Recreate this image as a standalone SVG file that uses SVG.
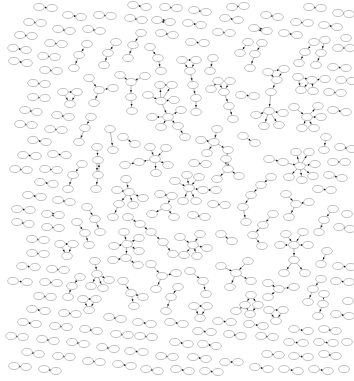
<svg xmlns="http://www.w3.org/2000/svg" width="354" height="381" viewBox="0 0 354 381">
<style>
ellipse{fill:#fff;stroke:#9a9a9a;stroke-width:.6}
#edges line{stroke:#6a6a6a;stroke-width:.5;marker-end:url(#a)}
</style>
<defs>
<marker id="a" markerUnits="userSpaceOnUse" markerWidth="10" markerHeight="10" refX="0" refY="0" orient="auto" overflow="visible"><path d="M-4.7,0L-7,-1L-7,1Z" fill="#111"/></marker>
</defs>
<rect width="354" height="381" fill="#fff"/>
<g id="edges">
<line x1="39" y1="7" x2="52" y2="8"/><line x1="68" y1="15" x2="81" y2="17"/><line x1="99" y1="15" x2="111" y2="16"/><line x1="29" y1="22" x2="41" y2="23"/><line x1="58" y1="29" x2="70" y2="31"/><line x1="88" y1="29" x2="100" y2="31"/><line x1="20" y1="35" x2="32" y2="36"/><line x1="50" y1="43" x2="62" y2="44"/><line x1="13" y1="48" x2="26" y2="50"/><line x1="43" y1="56" x2="55" y2="57"/><line x1="14" y1="61" x2="27" y2="63"/><line x1="45" y1="70" x2="57" y2="71"/><line x1="33" y1="83" x2="45" y2="84"/><line x1="33" y1="97" x2="45" y2="98"/><line x1="25" y1="110" x2="37" y2="112"/><line x1="57" y1="115" x2="69" y2="117"/><line x1="20" y1="124" x2="32" y2="125"/>
<line x1="133" y1="5" x2="146" y2="7"/><line x1="165" y1="7" x2="177" y2="8"/><line x1="194" y1="10" x2="206" y2="12"/><line x1="232" y1="7" x2="244" y2="6"/><line x1="130" y1="18" x2="142" y2="20"/><line x1="157" y1="19" x2="170" y2="21"/><line x1="170" y1="23" x2="157" y2="21"/><line x1="188" y1="23" x2="201" y2="25"/><line x1="225" y1="18" x2="238" y2="20"/><line x1="161" y1="33" x2="173" y2="35"/><line x1="191" y1="42" x2="204" y2="43"/><line x1="218" y1="32" x2="230" y2="33"/>
<line x1="309" y1="7" x2="321" y2="8"/><line x1="266" y1="15" x2="278" y2="17"/><line x1="338" y1="13" x2="349" y2="14"/><line x1="296" y1="22" x2="308" y2="23"/><line x1="324" y1="25" x2="337" y2="27"/><line x1="254" y1="27" x2="267" y2="30"/><line x1="267" y1="32" x2="254" y2="29"/><line x1="284" y1="33" x2="297" y2="35"/><line x1="338" y1="48" x2="350" y2="48"/><line x1="333" y1="67" x2="346" y2="68"/><line x1="341" y1="80" x2="352" y2="81"/><line x1="329" y1="92" x2="341" y2="93"/><line x1="241" y1="95" x2="254" y2="96"/><line x1="333" y1="110" x2="346" y2="112"/><line x1="50" y1="129" x2="62" y2="130"/>
<line x1="33" y1="140" x2="46" y2="142"/><line x1="23" y1="155" x2="36" y2="156"/><line x1="53" y1="154" x2="66" y2="155"/><line x1="15" y1="169" x2="27" y2="170"/><line x1="45" y1="169" x2="57" y2="170"/><line x1="40" y1="182" x2="53" y2="184"/><line x1="28" y1="195" x2="41" y2="197"/><line x1="58" y1="200" x2="70" y2="202"/><line x1="17" y1="209" x2="30" y2="210"/><line x1="47" y1="213" x2="59" y2="214"/><line x1="59" y1="216" x2="47" y2="215"/><line x1="17" y1="222" x2="29" y2="224"/><line x1="47" y1="227" x2="59" y2="228"/><line x1="32" y1="239" x2="44" y2="240"/><line x1="32" y1="253" x2="44" y2="254"/>
<line x1="243" y1="136" x2="255" y2="143"/><line x1="340" y1="147" x2="352" y2="149"/><line x1="333" y1="162" x2="345" y2="162"/><line x1="329" y1="175" x2="342" y2="178"/><line x1="318" y1="189" x2="331" y2="190"/><line x1="339" y1="227" x2="350" y2="229"/><line x1="194" y1="163" x2="206" y2="164"/><line x1="213" y1="204" x2="225" y2="205"/><line x1="193" y1="215" x2="205" y2="217"/><line x1="123" y1="137" x2="135" y2="144"/>
<line x1="22" y1="266" x2="35" y2="267"/><line x1="52" y1="269" x2="64" y2="270"/><line x1="13" y1="281" x2="27" y2="282"/><line x1="45" y1="282" x2="57" y2="283"/><line x1="39" y1="296" x2="51" y2="297"/><line x1="32" y1="309" x2="45" y2="311"/><line x1="64" y1="313" x2="76" y2="314"/><line x1="23" y1="322" x2="36" y2="324"/><line x1="55" y1="326" x2="67" y2="327"/><line x1="85" y1="329" x2="97" y2="331"/><line x1="109" y1="317" x2="121" y2="319"/><line x1="11" y1="336" x2="23" y2="337"/><line x1="42" y1="339" x2="54" y2="341"/><line x1="72" y1="342" x2="84" y2="344"/><line x1="102" y1="347" x2="114" y2="349"/><line x1="27" y1="352" x2="39" y2="354"/><line x1="58" y1="356" x2="70" y2="357"/><line x1="88" y1="361" x2="100" y2="362"/><line x1="14" y1="366" x2="26" y2="367"/><line x1="44" y1="369" x2="56" y2="371"/>
<line x1="138" y1="322" x2="151" y2="324"/><line x1="170" y1="322" x2="183" y2="324"/><line x1="218" y1="321" x2="231" y2="322"/><line x1="116" y1="334" x2="128" y2="335"/><line x1="140" y1="336" x2="152" y2="337"/><line x1="198" y1="331" x2="211" y2="332"/><line x1="229" y1="334" x2="241" y2="336"/><line x1="175" y1="342" x2="188" y2="344"/><line x1="203" y1="344" x2="216" y2="346"/><line x1="130" y1="351" x2="143" y2="352"/><line x1="161" y1="356" x2="173" y2="357"/><line x1="193" y1="357" x2="206" y2="359"/><line x1="225" y1="362" x2="238" y2="362"/><line x1="118" y1="364" x2="131" y2="366"/><line x1="146" y1="369" x2="158" y2="371"/><line x1="176" y1="369" x2="189" y2="371"/><line x1="205" y1="371" x2="218" y2="372"/>
<line x1="338" y1="266" x2="351" y2="267"/><line x1="336" y1="281" x2="349" y2="282"/><line x1="336" y1="314" x2="349" y2="316"/><line x1="249" y1="324" x2="263" y2="326"/><line x1="294" y1="329" x2="308" y2="331"/><line x1="324" y1="329" x2="336" y2="331"/><line x1="261" y1="336" x2="273" y2="337"/><line x1="289" y1="342" x2="303" y2="343"/><line x1="319" y1="342" x2="333" y2="343"/><line x1="267" y1="354" x2="279" y2="355"/><line x1="294" y1="356" x2="308" y2="357"/><line x1="324" y1="354" x2="336" y2="356"/><line x1="255" y1="367" x2="268" y2="369"/><line x1="284" y1="369" x2="298" y2="371"/><line x1="314" y1="369" x2="328" y2="371"/>
<line x1="87" y1="44" x2="79" y2="55"/><line x1="79" y1="55" x2="74" y2="68"/><line x1="116" y1="42" x2="108" y2="53"/><line x1="108" y1="53" x2="104" y2="65"/><line x1="141" y1="33" x2="133" y2="45"/><line x1="133" y1="45" x2="128" y2="58"/><line x1="150" y1="47" x2="158" y2="58"/><line x1="158" y1="58" x2="161" y2="71"/><line x1="213" y1="58" x2="210" y2="71"/><line x1="248" y1="42" x2="240" y2="53"/><line x1="262" y1="43" x2="255" y2="54"/><line x1="255" y1="54" x2="250" y2="68"/><line x1="314" y1="42" x2="305" y2="52"/><line x1="305" y1="52" x2="299" y2="63"/><line x1="325" y1="40" x2="321" y2="53"/><line x1="321" y1="53" x2="316" y2="65"/>
<line x1="89" y1="78" x2="99" y2="90"/><line x1="99" y1="90" x2="113" y2="88"/><line x1="99" y1="90" x2="94" y2="103"/><line x1="120" y1="75" x2="131" y2="82"/><line x1="145" y1="76" x2="131" y2="82"/><line x1="131" y1="82" x2="131" y2="97"/><line x1="131" y1="97" x2="132" y2="111"/><line x1="63" y1="92" x2="77" y2="92"/><line x1="63" y1="92" x2="70" y2="104"/><line x1="77" y1="92" x2="70" y2="104"/>
<line x1="182" y1="60" x2="196" y2="60"/><line x1="182" y1="60" x2="190" y2="71"/><line x1="196" y1="60" x2="190" y2="71"/><line x1="190" y1="71" x2="193" y2="85"/><line x1="193" y1="85" x2="196" y2="98"/><line x1="196" y1="98" x2="196" y2="112"/>
<line x1="161" y1="101" x2="160" y2="85"/><line x1="161" y1="101" x2="172" y2="85"/><line x1="160" y1="85" x2="172" y2="85"/><line x1="148" y1="95" x2="161" y2="101"/><line x1="161" y1="101" x2="174" y2="100"/><line x1="161" y1="101" x2="168" y2="117"/><line x1="168" y1="117" x2="152" y2="117"/><line x1="168" y1="117" x2="181" y2="110"/><line x1="168" y1="117" x2="161" y2="127"/><line x1="168" y1="117" x2="178" y2="126"/><line x1="178" y1="126" x2="185" y2="137"/>
<line x1="218" y1="81" x2="211" y2="89"/><line x1="218" y1="81" x2="224" y2="92"/><line x1="230" y1="81" x2="224" y2="92"/><line x1="224" y1="92" x2="229" y2="106"/><line x1="229" y1="106" x2="233" y2="119"/>
<line x1="201" y1="140" x2="214" y2="142"/><line x1="217" y1="129" x2="214" y2="142"/><line x1="214" y1="142" x2="228" y2="150"/><line x1="214" y1="142" x2="207" y2="153"/><line x1="228" y1="150" x2="226" y2="159"/><line x1="225" y1="159" x2="227" y2="169"/><line x1="229" y1="169" x2="227" y2="159"/><line x1="228" y1="169" x2="217" y2="179"/><line x1="228" y1="169" x2="239" y2="176"/>
<line x1="268" y1="72" x2="284" y2="69"/><line x1="268" y1="72" x2="277" y2="80"/><line x1="284" y1="69" x2="277" y2="80"/><line x1="277" y1="80" x2="271" y2="92"/><line x1="271" y1="92" x2="269" y2="111"/><line x1="269" y1="111" x2="256" y2="115"/><line x1="269" y1="111" x2="283" y2="113"/><line x1="269" y1="111" x2="264" y2="126"/><line x1="269" y1="111" x2="279" y2="125"/>
<line x1="298" y1="77" x2="312" y2="80"/><line x1="325" y1="79" x2="312" y2="80"/><line x1="312" y1="80" x2="301" y2="90"/><line x1="298" y1="77" x2="301" y2="90"/><line x1="312" y1="80" x2="313" y2="91"/>
<line x1="294" y1="107" x2="307" y2="117"/><line x1="307" y1="117" x2="318" y2="106"/><line x1="307" y1="117" x2="321" y2="117"/><line x1="307" y1="117" x2="302" y2="128"/><line x1="307" y1="117" x2="314" y2="128"/>
<line x1="91" y1="117" x2="85" y2="128"/><line x1="85" y1="128" x2="79" y2="142"/><line x1="110" y1="129" x2="113" y2="150"/><line x1="97" y1="147" x2="98" y2="160"/><line x1="97" y1="160" x2="97" y2="175"/><line x1="99" y1="175" x2="99" y2="160"/><line x1="98" y1="175" x2="96" y2="189"/><line x1="82" y1="164" x2="73" y2="175"/><line x1="73" y1="175" x2="68" y2="189"/><line x1="87" y1="207" x2="95" y2="219"/><line x1="95" y1="219" x2="100" y2="232"/><line x1="77" y1="222" x2="85" y2="233"/><line x1="85" y1="233" x2="89" y2="245"/><line x1="60" y1="244" x2="73" y2="244"/><line x1="60" y1="244" x2="67" y2="256"/><line x1="73" y1="244" x2="67" y2="256"/>
<line x1="150" y1="147" x2="155" y2="159"/><line x1="166" y1="148" x2="155" y2="159"/><line x1="155" y1="159" x2="139" y2="162"/><line x1="155" y1="159" x2="168" y2="165"/><line x1="155" y1="159" x2="156" y2="173"/><line x1="125" y1="165" x2="139" y2="162"/>
<line x1="126" y1="179" x2="129" y2="192"/><line x1="117" y1="190" x2="129" y2="192"/><line x1="129" y1="192" x2="119" y2="204"/><line x1="129" y1="192" x2="133" y2="205"/><line x1="129" y1="192" x2="143" y2="198"/><line x1="119" y1="204" x2="113" y2="217"/>
<line x1="175" y1="181" x2="189" y2="188"/><line x1="187" y1="175" x2="189" y2="188"/><line x1="199" y1="177" x2="189" y2="188"/><line x1="189" y1="188" x2="203" y2="190"/><line x1="203" y1="190" x2="216" y2="190"/><line x1="189" y1="188" x2="183" y2="201"/><line x1="189" y1="188" x2="196" y2="201"/>
<line x1="160" y1="194" x2="172" y2="196"/><line x1="172" y1="196" x2="166" y2="207"/><line x1="166" y1="207" x2="152" y2="214"/><line x1="166" y1="207" x2="174" y2="217"/>
<line x1="128" y1="217" x2="140" y2="224"/><line x1="140" y1="224" x2="151" y2="232"/><line x1="151" y1="232" x2="163" y2="242"/><line x1="163" y1="242" x2="173" y2="254"/>
<line x1="124" y1="232" x2="127" y2="244"/><line x1="127" y1="244" x2="139" y2="238"/><line x1="127" y1="244" x2="114" y2="246"/><line x1="127" y1="244" x2="139" y2="251"/><line x1="127" y1="244" x2="126" y2="258"/><line x1="126" y1="258" x2="113" y2="260"/><line x1="126" y1="258" x2="138" y2="265"/>
<line x1="180" y1="237" x2="193" y2="245"/><line x1="200" y1="234" x2="193" y2="245"/><line x1="193" y1="245" x2="207" y2="248"/><line x1="193" y1="245" x2="197" y2="256"/><line x1="193" y1="245" x2="184" y2="255"/><line x1="221" y1="234" x2="232" y2="241"/>
<line x1="271" y1="177" x2="261" y2="185"/><line x1="261" y1="185" x2="251" y2="195"/><line x1="251" y1="195" x2="243" y2="207"/><line x1="243" y1="207" x2="246" y2="222"/><line x1="273" y1="214" x2="263" y2="225"/><line x1="263" y1="225" x2="253" y2="235"/><line x1="253" y1="235" x2="262" y2="246"/>
<line x1="286" y1="194" x2="296" y2="204"/><line x1="296" y1="204" x2="309" y2="202"/><line x1="296" y1="204" x2="289" y2="217"/><line x1="333" y1="209" x2="324" y2="220"/><line x1="324" y1="220" x2="319" y2="232"/>
<line x1="286" y1="234" x2="294" y2="245"/><line x1="303" y1="232" x2="294" y2="245"/><line x1="294" y1="245" x2="280" y2="245"/><line x1="294" y1="245" x2="308" y2="245"/><line x1="294" y1="245" x2="294" y2="260"/><line x1="294" y1="260" x2="284" y2="273"/><line x1="294" y1="260" x2="305" y2="273"/>
<line x1="269" y1="159" x2="283" y2="162"/><line x1="283" y1="162" x2="300" y2="166"/><line x1="300" y1="166" x2="296" y2="152"/><line x1="300" y1="166" x2="309" y2="152"/><line x1="300" y1="166" x2="315" y2="164"/><line x1="300" y1="166" x2="313" y2="176"/><line x1="300" y1="166" x2="302" y2="180"/><line x1="300" y1="166" x2="289" y2="177"/>
<line x1="326" y1="137" x2="324" y2="150"/><line x1="327" y1="251" x2="321" y2="264"/>
<line x1="95" y1="261" x2="97" y2="274"/><line x1="97" y1="274" x2="109" y2="280"/><line x1="97" y1="274" x2="91" y2="286"/><line x1="97" y1="274" x2="103" y2="288"/><line x1="80" y1="277" x2="72" y2="286"/><line x1="72" y1="286" x2="68" y2="297"/><line x1="83" y1="299" x2="96" y2="299"/><line x1="83" y1="299" x2="89" y2="310"/><line x1="96" y1="299" x2="89" y2="310"/>
<line x1="151" y1="264" x2="162" y2="276"/><line x1="162" y1="276" x2="176" y2="273"/><line x1="162" y1="276" x2="156" y2="289"/><line x1="221" y1="266" x2="236" y2="273"/><line x1="236" y1="273" x2="230" y2="287"/><line x1="248" y1="261" x2="236" y2="273"/><line x1="236" y1="273" x2="251" y2="281"/><line x1="190" y1="271" x2="203" y2="281"/><line x1="203" y1="281" x2="206" y2="294"/><line x1="123" y1="281" x2="131" y2="293"/><line x1="131" y1="293" x2="143" y2="297"/><line x1="131" y1="293" x2="134" y2="306"/><line x1="178" y1="287" x2="171" y2="297"/><line x1="171" y1="297" x2="166" y2="311"/><line x1="194" y1="306" x2="207" y2="306"/><line x1="194" y1="306" x2="200" y2="318"/><line x1="207" y1="306" x2="200" y2="318"/>
<line x1="251" y1="295" x2="245" y2="305"/><line x1="251" y1="295" x2="258" y2="305"/><line x1="245" y1="305" x2="236" y2="311"/><line x1="245" y1="305" x2="250" y2="314"/><line x1="258" y1="305" x2="250" y2="314"/><line x1="268" y1="283" x2="279" y2="289"/><line x1="279" y1="289" x2="294" y2="287"/><line x1="279" y1="289" x2="268" y2="297"/><line x1="321" y1="279" x2="313" y2="289"/><line x1="313" y1="289" x2="308" y2="302"/><line x1="324" y1="294" x2="323" y2="304"/><line x1="323" y1="304" x2="318" y2="316"/><line x1="269" y1="310" x2="283" y2="310"/><line x1="269" y1="310" x2="276" y2="321"/><line x1="283" y1="310" x2="276" y2="321"/>
</g>
<g id="n1"><ellipse cx="39" cy="7" rx="5.4" ry="3.6"/></g><g id="n2"><ellipse cx="52" cy="8" rx="5.4" ry="3.6"/></g><g id="n3"><ellipse cx="68" cy="15" rx="5.4" ry="3.6"/></g><g id="n4"><ellipse cx="81" cy="17" rx="5.4" ry="3.6"/></g><g id="n5"><ellipse cx="99" cy="15" rx="5.4" ry="3.6"/></g><g id="n6"><ellipse cx="111" cy="16" rx="5.4" ry="3.6"/></g><g id="n7"><ellipse cx="29" cy="22" rx="5.4" ry="3.6"/></g><g id="n8"><ellipse cx="41" cy="23" rx="5.4" ry="3.6"/></g><g id="n9"><ellipse cx="58" cy="29" rx="5.4" ry="3.6"/></g><g id="n10"><ellipse cx="70" cy="31" rx="5.4" ry="3.6"/></g>
<g id="n11"><ellipse cx="88" cy="29" rx="5.4" ry="3.6"/></g><g id="n12"><ellipse cx="100" cy="31" rx="5.4" ry="3.6"/></g><g id="n13"><ellipse cx="20" cy="35" rx="5.4" ry="3.6"/></g><g id="n14"><ellipse cx="32" cy="36" rx="5.4" ry="3.6"/></g><g id="n15"><ellipse cx="50" cy="43" rx="5.4" ry="3.6"/></g><g id="n16"><ellipse cx="62" cy="44" rx="5.4" ry="3.6"/></g><g id="n17"><ellipse cx="13" cy="48" rx="5.4" ry="3.6"/></g><g id="n18"><ellipse cx="26" cy="50" rx="5.4" ry="3.6"/></g><g id="n19"><ellipse cx="43" cy="56" rx="5.4" ry="3.6"/></g><g id="n20"><ellipse cx="55" cy="57" rx="5.4" ry="3.6"/></g>
<g id="n21"><ellipse cx="14" cy="61" rx="5.4" ry="3.6"/></g><g id="n22"><ellipse cx="27" cy="63" rx="5.4" ry="3.6"/></g><g id="n23"><ellipse cx="45" cy="70" rx="5.4" ry="3.6"/></g><g id="n24"><ellipse cx="57" cy="71" rx="5.4" ry="3.6"/></g><g id="n25"><ellipse cx="33" cy="83" rx="5.4" ry="3.6"/></g><g id="n26"><ellipse cx="45" cy="84" rx="5.4" ry="3.6"/></g><g id="n27"><ellipse cx="33" cy="97" rx="5.4" ry="3.6"/></g><g id="n28"><ellipse cx="45" cy="98" rx="5.4" ry="3.6"/></g><g id="n29"><ellipse cx="25" cy="110" rx="5.4" ry="3.6"/></g><g id="n30"><ellipse cx="37" cy="112" rx="5.4" ry="3.6"/></g>
<g id="n31"><ellipse cx="57" cy="115" rx="5.4" ry="3.6"/></g><g id="n32"><ellipse cx="69" cy="117" rx="5.4" ry="3.6"/></g><g id="n33"><ellipse cx="20" cy="124" rx="5.4" ry="3.6"/></g><g id="n34"><ellipse cx="32" cy="125" rx="5.4" ry="3.6"/></g><g id="n35"><ellipse cx="133" cy="5" rx="5.4" ry="3.6"/></g><g id="n36"><ellipse cx="146" cy="7" rx="5.4" ry="3.6"/></g><g id="n37"><ellipse cx="165" cy="7" rx="5.4" ry="3.6"/></g><g id="n38"><ellipse cx="177" cy="8" rx="5.4" ry="3.6"/></g><g id="n39"><ellipse cx="194" cy="10" rx="5.4" ry="3.6"/></g><g id="n40"><ellipse cx="206" cy="12" rx="5.4" ry="3.6"/></g>
<g id="n41"><ellipse cx="232" cy="7" rx="5.4" ry="3.6"/></g><g id="n42"><ellipse cx="244" cy="6" rx="5.4" ry="3.6"/></g><g id="n43"><ellipse cx="130" cy="18" rx="5.4" ry="3.6"/></g><g id="n44"><ellipse cx="142" cy="20" rx="5.4" ry="3.6"/></g><g id="n45"><ellipse cx="157" cy="20" rx="5.4" ry="3.6"/></g><g id="n46"><ellipse cx="170" cy="22" rx="5.4" ry="3.6"/></g><g id="n47"><ellipse cx="188" cy="23" rx="5.4" ry="3.6"/></g><g id="n48"><ellipse cx="201" cy="25" rx="5.4" ry="3.6"/></g><g id="n49"><ellipse cx="225" cy="18" rx="5.4" ry="3.6"/></g><g id="n50"><ellipse cx="238" cy="20" rx="5.4" ry="3.6"/></g>
<g id="n51"><ellipse cx="161" cy="33" rx="5.4" ry="3.6"/></g><g id="n52"><ellipse cx="173" cy="35" rx="5.4" ry="3.6"/></g><g id="n53"><ellipse cx="191" cy="42" rx="5.4" ry="3.6"/></g><g id="n54"><ellipse cx="204" cy="43" rx="5.4" ry="3.6"/></g><g id="n55"><ellipse cx="218" cy="32" rx="5.4" ry="3.6"/></g><g id="n56"><ellipse cx="230" cy="33" rx="5.4" ry="3.6"/></g><g id="n57"><ellipse cx="309" cy="7" rx="5.4" ry="3.6"/></g><g id="n58"><ellipse cx="321" cy="8" rx="5.4" ry="3.6"/></g><g id="n59"><ellipse cx="266" cy="15" rx="5.4" ry="3.6"/></g><g id="n60"><ellipse cx="278" cy="17" rx="5.4" ry="3.6"/></g>
<g id="n61"><ellipse cx="338" cy="13" rx="5.4" ry="3.6"/></g><g id="n62"><ellipse cx="349" cy="14" rx="5.4" ry="3.6"/></g><g id="n63"><ellipse cx="296" cy="22" rx="5.4" ry="3.6"/></g><g id="n64"><ellipse cx="308" cy="23" rx="5.4" ry="3.6"/></g><g id="n65"><ellipse cx="324" cy="25" rx="5.4" ry="3.6"/></g><g id="n66"><ellipse cx="337" cy="27" rx="5.4" ry="3.6"/></g><g id="n67"><ellipse cx="254" cy="28" rx="5.4" ry="3.6"/></g><g id="n68"><ellipse cx="267" cy="31" rx="5.4" ry="3.6"/></g><g id="n69"><ellipse cx="284" cy="33" rx="5.4" ry="3.6"/></g><g id="n70"><ellipse cx="297" cy="35" rx="5.4" ry="3.6"/></g>
<g id="n71"><ellipse cx="338" cy="48" rx="5.4" ry="3.6"/></g><g id="n72"><ellipse cx="350" cy="48" rx="5.4" ry="3.6"/></g><g id="n73"><ellipse cx="333" cy="67" rx="5.4" ry="3.6"/></g><g id="n74"><ellipse cx="346" cy="68" rx="5.4" ry="3.6"/></g><g id="n75"><ellipse cx="341" cy="80" rx="5.4" ry="3.6"/></g><g id="n76"><ellipse cx="352" cy="81" rx="5.4" ry="3.6"/></g><g id="n77"><ellipse cx="329" cy="92" rx="5.4" ry="3.6"/></g><g id="n78"><ellipse cx="341" cy="93" rx="5.4" ry="3.6"/></g><g id="n79"><ellipse cx="241" cy="95" rx="5.4" ry="3.6"/></g><g id="n80"><ellipse cx="254" cy="96" rx="5.4" ry="3.6"/></g>
<g id="n81"><ellipse cx="333" cy="110" rx="5.4" ry="3.6"/></g><g id="n82"><ellipse cx="346" cy="112" rx="5.4" ry="3.6"/></g><g id="n83"><ellipse cx="50" cy="129" rx="5.4" ry="3.6"/></g><g id="n84"><ellipse cx="62" cy="130" rx="5.4" ry="3.6"/></g><g id="n85"><ellipse cx="33" cy="140" rx="5.4" ry="3.6"/></g><g id="n86"><ellipse cx="46" cy="142" rx="5.4" ry="3.6"/></g><g id="n87"><ellipse cx="23" cy="155" rx="5.4" ry="3.6"/></g><g id="n88"><ellipse cx="36" cy="156" rx="5.4" ry="3.6"/></g><g id="n89"><ellipse cx="53" cy="154" rx="5.4" ry="3.6"/></g><g id="n90"><ellipse cx="66" cy="155" rx="5.4" ry="3.6"/></g>
<g id="n91"><ellipse cx="15" cy="169" rx="5.4" ry="3.6"/></g><g id="n92"><ellipse cx="27" cy="170" rx="5.4" ry="3.6"/></g><g id="n93"><ellipse cx="45" cy="169" rx="5.4" ry="3.6"/></g><g id="n94"><ellipse cx="57" cy="170" rx="5.4" ry="3.6"/></g><g id="n95"><ellipse cx="40" cy="182" rx="5.4" ry="3.6"/></g><g id="n96"><ellipse cx="53" cy="184" rx="5.4" ry="3.6"/></g><g id="n97"><ellipse cx="28" cy="195" rx="5.4" ry="3.6"/></g><g id="n98"><ellipse cx="41" cy="197" rx="5.4" ry="3.6"/></g><g id="n99"><ellipse cx="58" cy="200" rx="5.4" ry="3.6"/></g><g id="n100"><ellipse cx="70" cy="202" rx="5.4" ry="3.6"/></g>
<g id="n101"><ellipse cx="17" cy="209" rx="5.4" ry="3.6"/></g><g id="n102"><ellipse cx="30" cy="210" rx="5.4" ry="3.6"/></g><g id="n103"><ellipse cx="47" cy="214" rx="5.4" ry="3.6"/></g><g id="n104"><ellipse cx="59" cy="215" rx="5.4" ry="3.6"/></g><g id="n105"><ellipse cx="17" cy="222" rx="5.4" ry="3.6"/></g><g id="n106"><ellipse cx="29" cy="224" rx="5.4" ry="3.6"/></g><g id="n107"><ellipse cx="47" cy="227" rx="5.4" ry="3.6"/></g><g id="n108"><ellipse cx="59" cy="228" rx="5.4" ry="3.6"/></g><g id="n109"><ellipse cx="32" cy="239" rx="5.4" ry="3.6"/></g><g id="n110"><ellipse cx="44" cy="240" rx="5.4" ry="3.6"/></g>
<g id="n111"><ellipse cx="32" cy="253" rx="5.4" ry="3.6"/></g><g id="n112"><ellipse cx="44" cy="254" rx="5.4" ry="3.6"/></g><g id="n113"><ellipse cx="243" cy="136" rx="5.4" ry="3.6"/></g><g id="n114"><ellipse cx="255" cy="143" rx="5.4" ry="3.6"/></g><g id="n115"><ellipse cx="340" cy="147" rx="5.4" ry="3.6"/></g><g id="n116"><ellipse cx="352" cy="149" rx="5.4" ry="3.6"/></g><g id="n117"><ellipse cx="333" cy="162" rx="5.4" ry="3.6"/></g><g id="n118"><ellipse cx="345" cy="162" rx="5.4" ry="3.6"/></g><g id="n119"><ellipse cx="329" cy="175" rx="5.4" ry="3.6"/></g><g id="n120"><ellipse cx="342" cy="178" rx="5.4" ry="3.6"/></g>
<g id="n121"><ellipse cx="318" cy="189" rx="5.4" ry="3.6"/></g><g id="n122"><ellipse cx="331" cy="190" rx="5.4" ry="3.6"/></g><g id="n123"><ellipse cx="347" cy="214" rx="5.4" ry="3.6"/></g><g id="n124"><ellipse cx="339" cy="227" rx="5.4" ry="3.6"/></g><g id="n125"><ellipse cx="350" cy="229" rx="5.4" ry="3.6"/></g><g id="n126"><ellipse cx="194" cy="163" rx="5.4" ry="3.6"/></g><g id="n127"><ellipse cx="206" cy="164" rx="5.4" ry="3.6"/></g><g id="n128"><ellipse cx="213" cy="204" rx="5.4" ry="3.6"/></g><g id="n129"><ellipse cx="225" cy="205" rx="5.4" ry="3.6"/></g><g id="n130"><ellipse cx="193" cy="215" rx="5.4" ry="3.6"/></g>
<g id="n131"><ellipse cx="205" cy="217" rx="5.4" ry="3.6"/></g><g id="n132"><ellipse cx="123" cy="137" rx="5.4" ry="3.6"/></g><g id="n133"><ellipse cx="135" cy="144" rx="5.4" ry="3.6"/></g><g id="n134"><ellipse cx="22" cy="266" rx="5.4" ry="3.6"/></g><g id="n135"><ellipse cx="35" cy="267" rx="5.4" ry="3.6"/></g><g id="n136"><ellipse cx="52" cy="269" rx="5.4" ry="3.6"/></g><g id="n137"><ellipse cx="64" cy="270" rx="5.4" ry="3.6"/></g><g id="n138"><ellipse cx="13" cy="281" rx="5.4" ry="3.6"/></g><g id="n139"><ellipse cx="27" cy="282" rx="5.4" ry="3.6"/></g><g id="n140"><ellipse cx="45" cy="282" rx="5.4" ry="3.6"/></g>
<g id="n141"><ellipse cx="57" cy="283" rx="5.4" ry="3.6"/></g><g id="n142"><ellipse cx="39" cy="296" rx="5.4" ry="3.6"/></g><g id="n143"><ellipse cx="51" cy="297" rx="5.4" ry="3.6"/></g><g id="n144"><ellipse cx="32" cy="309" rx="5.4" ry="3.6"/></g><g id="n145"><ellipse cx="45" cy="311" rx="5.4" ry="3.6"/></g><g id="n146"><ellipse cx="64" cy="313" rx="5.4" ry="3.6"/></g><g id="n147"><ellipse cx="76" cy="314" rx="5.4" ry="3.6"/></g><g id="n148"><ellipse cx="23" cy="322" rx="5.4" ry="3.6"/></g><g id="n149"><ellipse cx="36" cy="324" rx="5.4" ry="3.6"/></g><g id="n150"><ellipse cx="55" cy="326" rx="5.4" ry="3.6"/></g>
<g id="n151"><ellipse cx="67" cy="327" rx="5.4" ry="3.6"/></g><g id="n152"><ellipse cx="85" cy="329" rx="5.4" ry="3.6"/></g><g id="n153"><ellipse cx="97" cy="331" rx="5.4" ry="3.6"/></g><g id="n154"><ellipse cx="109" cy="317" rx="5.4" ry="3.6"/></g><g id="n155"><ellipse cx="121" cy="319" rx="5.4" ry="3.6"/></g><g id="n156"><ellipse cx="11" cy="336" rx="5.4" ry="3.6"/></g><g id="n157"><ellipse cx="23" cy="337" rx="5.4" ry="3.6"/></g><g id="n158"><ellipse cx="42" cy="339" rx="5.4" ry="3.6"/></g><g id="n159"><ellipse cx="54" cy="341" rx="5.4" ry="3.6"/></g><g id="n160"><ellipse cx="72" cy="342" rx="5.4" ry="3.6"/></g>
<g id="n161"><ellipse cx="84" cy="344" rx="5.4" ry="3.6"/></g><g id="n162"><ellipse cx="102" cy="347" rx="5.4" ry="3.6"/></g><g id="n163"><ellipse cx="114" cy="349" rx="5.4" ry="3.6"/></g><g id="n164"><ellipse cx="27" cy="352" rx="5.4" ry="3.6"/></g><g id="n165"><ellipse cx="39" cy="354" rx="5.4" ry="3.6"/></g><g id="n166"><ellipse cx="58" cy="356" rx="5.4" ry="3.6"/></g><g id="n167"><ellipse cx="70" cy="357" rx="5.4" ry="3.6"/></g><g id="n168"><ellipse cx="88" cy="361" rx="5.4" ry="3.6"/></g><g id="n169"><ellipse cx="100" cy="362" rx="5.4" ry="3.6"/></g><g id="n170"><ellipse cx="14" cy="366" rx="5.4" ry="3.6"/></g>
<g id="n171"><ellipse cx="26" cy="367" rx="5.4" ry="3.6"/></g><g id="n172"><ellipse cx="44" cy="369" rx="5.4" ry="3.6"/></g><g id="n173"><ellipse cx="56" cy="371" rx="5.4" ry="3.6"/></g><g id="n174"><ellipse cx="138" cy="322" rx="5.4" ry="3.6"/></g><g id="n175"><ellipse cx="151" cy="324" rx="5.4" ry="3.6"/></g><g id="n176"><ellipse cx="170" cy="322" rx="5.4" ry="3.6"/></g><g id="n177"><ellipse cx="183" cy="324" rx="5.4" ry="3.6"/></g><g id="n178"><ellipse cx="218" cy="321" rx="5.4" ry="3.6"/></g><g id="n179"><ellipse cx="231" cy="322" rx="5.4" ry="3.6"/></g><g id="n180"><ellipse cx="116" cy="334" rx="5.4" ry="3.6"/></g>
<g id="n181"><ellipse cx="128" cy="335" rx="5.4" ry="3.6"/></g><g id="n182"><ellipse cx="140" cy="336" rx="5.4" ry="3.6"/></g><g id="n183"><ellipse cx="152" cy="337" rx="5.4" ry="3.6"/></g><g id="n184"><ellipse cx="198" cy="331" rx="5.4" ry="3.6"/></g><g id="n185"><ellipse cx="211" cy="332" rx="5.4" ry="3.6"/></g><g id="n186"><ellipse cx="229" cy="334" rx="5.4" ry="3.6"/></g><g id="n187"><ellipse cx="241" cy="336" rx="5.4" ry="3.6"/></g><g id="n188"><ellipse cx="175" cy="342" rx="5.4" ry="3.6"/></g><g id="n189"><ellipse cx="188" cy="344" rx="5.4" ry="3.6"/></g><g id="n190"><ellipse cx="203" cy="344" rx="5.4" ry="3.6"/></g>
<g id="n191"><ellipse cx="216" cy="346" rx="5.4" ry="3.6"/></g><g id="n192"><ellipse cx="130" cy="351" rx="5.4" ry="3.6"/></g><g id="n193"><ellipse cx="143" cy="352" rx="5.4" ry="3.6"/></g><g id="n194"><ellipse cx="161" cy="356" rx="5.4" ry="3.6"/></g><g id="n195"><ellipse cx="173" cy="357" rx="5.4" ry="3.6"/></g><g id="n196"><ellipse cx="193" cy="357" rx="5.4" ry="3.6"/></g><g id="n197"><ellipse cx="206" cy="359" rx="5.4" ry="3.6"/></g><g id="n198"><ellipse cx="225" cy="362" rx="5.4" ry="3.6"/></g><g id="n199"><ellipse cx="238" cy="362" rx="5.4" ry="3.6"/></g><g id="n200"><ellipse cx="118" cy="364" rx="5.4" ry="3.6"/></g>
<g id="n201"><ellipse cx="131" cy="366" rx="5.4" ry="3.6"/></g><g id="n202"><ellipse cx="146" cy="369" rx="5.4" ry="3.6"/></g><g id="n203"><ellipse cx="158" cy="371" rx="5.4" ry="3.6"/></g><g id="n204"><ellipse cx="176" cy="369" rx="5.4" ry="3.6"/></g><g id="n205"><ellipse cx="189" cy="371" rx="5.4" ry="3.6"/></g><g id="n206"><ellipse cx="205" cy="371" rx="5.4" ry="3.6"/></g><g id="n207"><ellipse cx="218" cy="372" rx="5.4" ry="3.6"/></g><g id="n208"><ellipse cx="338" cy="266" rx="5.4" ry="3.6"/></g><g id="n209"><ellipse cx="351" cy="267" rx="5.4" ry="3.6"/></g><g id="n210"><ellipse cx="336" cy="281" rx="5.4" ry="3.6"/></g>
<g id="n211"><ellipse cx="349" cy="282" rx="5.4" ry="3.6"/></g><g id="n212"><ellipse cx="336" cy="314" rx="5.4" ry="3.6"/></g><g id="n213"><ellipse cx="349" cy="316" rx="5.4" ry="3.6"/></g><g id="n214"><ellipse cx="249" cy="324" rx="5.4" ry="3.6"/></g><g id="n215"><ellipse cx="263" cy="326" rx="5.4" ry="3.6"/></g><g id="n216"><ellipse cx="294" cy="329" rx="5.4" ry="3.6"/></g><g id="n217"><ellipse cx="308" cy="331" rx="5.4" ry="3.6"/></g><g id="n218"><ellipse cx="324" cy="329" rx="5.4" ry="3.6"/></g><g id="n219"><ellipse cx="336" cy="331" rx="5.4" ry="3.6"/></g><g id="n220"><ellipse cx="261" cy="336" rx="5.4" ry="3.6"/></g>
<g id="n221"><ellipse cx="273" cy="337" rx="5.4" ry="3.6"/></g><g id="n222"><ellipse cx="289" cy="342" rx="5.4" ry="3.6"/></g><g id="n223"><ellipse cx="303" cy="343" rx="5.4" ry="3.6"/></g><g id="n224"><ellipse cx="319" cy="342" rx="5.4" ry="3.6"/></g><g id="n225"><ellipse cx="333" cy="343" rx="5.4" ry="3.6"/></g><g id="n226"><ellipse cx="267" cy="354" rx="5.4" ry="3.6"/></g><g id="n227"><ellipse cx="279" cy="355" rx="5.4" ry="3.6"/></g><g id="n228"><ellipse cx="294" cy="356" rx="5.4" ry="3.6"/></g><g id="n229"><ellipse cx="308" cy="357" rx="5.4" ry="3.6"/></g><g id="n230"><ellipse cx="324" cy="354" rx="5.4" ry="3.6"/></g>
<g id="n231"><ellipse cx="336" cy="356" rx="5.4" ry="3.6"/></g><g id="n232"><ellipse cx="255" cy="367" rx="5.4" ry="3.6"/></g><g id="n233"><ellipse cx="268" cy="369" rx="5.4" ry="3.6"/></g><g id="n234"><ellipse cx="284" cy="369" rx="5.4" ry="3.6"/></g><g id="n235"><ellipse cx="298" cy="371" rx="5.4" ry="3.6"/></g><g id="n236"><ellipse cx="314" cy="369" rx="5.4" ry="3.6"/></g><g id="n237"><ellipse cx="328" cy="371" rx="5.4" ry="3.6"/></g>
<g id="n238"><ellipse cx="87" cy="44" rx="5.4" ry="3.6"/></g><g id="n239"><ellipse cx="79" cy="55" rx="5.4" ry="3.6"/></g><g id="n240"><ellipse cx="74" cy="68" rx="5.4" ry="3.6"/></g><g id="n241"><ellipse cx="116" cy="42" rx="5.4" ry="3.6"/></g><g id="n242"><ellipse cx="108" cy="53" rx="5.4" ry="3.6"/></g><g id="n243"><ellipse cx="104" cy="65" rx="5.4" ry="3.6"/></g><g id="n244"><ellipse cx="141" cy="33" rx="5.4" ry="3.6"/></g><g id="n245"><ellipse cx="133" cy="45" rx="5.4" ry="3.6"/></g><g id="n246"><ellipse cx="128" cy="58" rx="5.4" ry="3.6"/></g><g id="n247"><ellipse cx="150" cy="47" rx="5.4" ry="3.6"/></g>
<g id="n248"><ellipse cx="158" cy="58" rx="5.4" ry="3.6"/></g><g id="n249"><ellipse cx="161" cy="71" rx="5.4" ry="3.6"/></g><g id="n250"><ellipse cx="213" cy="58" rx="5.4" ry="3.6"/></g><g id="n251"><ellipse cx="210" cy="71" rx="5.4" ry="3.6"/></g><g id="n252"><ellipse cx="248" cy="42" rx="5.4" ry="3.6"/></g><g id="n253"><ellipse cx="240" cy="53" rx="5.4" ry="3.6"/></g><g id="n254"><ellipse cx="262" cy="43" rx="5.4" ry="3.6"/></g><g id="n255"><ellipse cx="255" cy="54" rx="5.4" ry="3.6"/></g><g id="n256"><ellipse cx="250" cy="68" rx="5.4" ry="3.6"/></g><g id="n257"><ellipse cx="314" cy="42" rx="5.4" ry="3.6"/></g>
<g id="n258"><ellipse cx="305" cy="52" rx="5.4" ry="3.6"/></g><g id="n259"><ellipse cx="299" cy="63" rx="5.4" ry="3.6"/></g><g id="n260"><ellipse cx="325" cy="40" rx="5.4" ry="3.6"/></g><g id="n261"><ellipse cx="321" cy="53" rx="5.4" ry="3.6"/></g><g id="n262"><ellipse cx="316" cy="65" rx="5.4" ry="3.6"/></g><g id="n263"><ellipse cx="89" cy="78" rx="5.4" ry="3.6"/></g><g id="n264"><ellipse cx="99" cy="90" rx="5.4" ry="3.6"/></g><g id="n265"><ellipse cx="113" cy="88" rx="5.4" ry="3.6"/></g><g id="n266"><ellipse cx="94" cy="103" rx="5.4" ry="3.6"/></g><g id="n267"><ellipse cx="120" cy="75" rx="5.4" ry="3.6"/></g>
<g id="n268"><ellipse cx="131" cy="82" rx="5.4" ry="3.6"/></g><g id="n269"><ellipse cx="145" cy="76" rx="5.4" ry="3.6"/></g><g id="n270"><ellipse cx="131" cy="97" rx="5.4" ry="3.6"/></g><g id="n271"><ellipse cx="132" cy="111" rx="5.4" ry="3.6"/></g><g id="n272"><ellipse cx="63" cy="92" rx="5.4" ry="3.6"/></g><g id="n273"><ellipse cx="77" cy="92" rx="5.4" ry="3.6"/></g><g id="n274"><ellipse cx="70" cy="104" rx="5.4" ry="3.6"/></g><g id="n275"><ellipse cx="182" cy="60" rx="5.4" ry="3.6"/></g><g id="n276"><ellipse cx="196" cy="60" rx="5.4" ry="3.6"/></g><g id="n277"><ellipse cx="190" cy="71" rx="5.4" ry="3.6"/></g>
<g id="n278"><ellipse cx="193" cy="85" rx="5.4" ry="3.6"/></g><g id="n279"><ellipse cx="196" cy="98" rx="5.4" ry="3.6"/></g><g id="n280"><ellipse cx="196" cy="112" rx="5.4" ry="3.6"/></g><g id="n281"><ellipse cx="160" cy="85" rx="5.4" ry="3.6"/></g><g id="n282"><ellipse cx="172" cy="85" rx="5.4" ry="3.6"/></g><g id="n283"><ellipse cx="148" cy="95" rx="5.4" ry="3.6"/></g><g id="n284"><ellipse cx="161" cy="101" rx="5.4" ry="3.6"/></g><g id="n285"><ellipse cx="174" cy="100" rx="5.4" ry="3.6"/></g><g id="n286"><ellipse cx="168" cy="117" rx="5.4" ry="3.6"/></g><g id="n287"><ellipse cx="152" cy="117" rx="5.4" ry="3.6"/></g>
<g id="n288"><ellipse cx="181" cy="110" rx="5.4" ry="3.6"/></g><g id="n289"><ellipse cx="161" cy="127" rx="5.4" ry="3.6"/></g><g id="n290"><ellipse cx="178" cy="126" rx="5.4" ry="3.6"/></g><g id="n291"><ellipse cx="185" cy="137" rx="5.4" ry="3.6"/></g><g id="n292"><ellipse cx="218" cy="81" rx="5.4" ry="3.6"/></g><g id="n293"><ellipse cx="230" cy="81" rx="5.4" ry="3.6"/></g><g id="n294"><ellipse cx="211" cy="89" rx="5.4" ry="3.6"/></g><g id="n295"><ellipse cx="224" cy="92" rx="5.4" ry="3.6"/></g><g id="n296"><ellipse cx="229" cy="106" rx="5.4" ry="3.6"/></g><g id="n297"><ellipse cx="233" cy="119" rx="5.4" ry="3.6"/></g>
<g id="n298"><ellipse cx="201" cy="140" rx="5.4" ry="3.6"/></g><g id="n299"><ellipse cx="217" cy="129" rx="5.4" ry="3.6"/></g><g id="n300"><ellipse cx="214" cy="142" rx="5.4" ry="3.6"/></g><g id="n301"><ellipse cx="228" cy="150" rx="5.4" ry="3.6"/></g><g id="n302"><ellipse cx="207" cy="153" rx="5.4" ry="3.6"/></g><g id="n303"><ellipse cx="226" cy="159" rx="5.4" ry="3.6"/></g><g id="n304"><ellipse cx="228" cy="169" rx="5.4" ry="3.6"/></g><g id="n305"><ellipse cx="217" cy="179" rx="5.4" ry="3.6"/></g><g id="n306"><ellipse cx="239" cy="176" rx="5.4" ry="3.6"/></g><g id="n307"><ellipse cx="268" cy="72" rx="5.4" ry="3.6"/></g>
<g id="n308"><ellipse cx="284" cy="69" rx="5.4" ry="3.6"/></g><g id="n309"><ellipse cx="277" cy="80" rx="5.4" ry="3.6"/></g><g id="n310"><ellipse cx="271" cy="92" rx="5.4" ry="3.6"/></g><g id="n311"><ellipse cx="269" cy="111" rx="5.4" ry="3.6"/></g><g id="n312"><ellipse cx="256" cy="115" rx="5.4" ry="3.6"/></g><g id="n313"><ellipse cx="283" cy="113" rx="5.4" ry="3.6"/></g><g id="n314"><ellipse cx="264" cy="126" rx="5.4" ry="3.6"/></g><g id="n315"><ellipse cx="279" cy="125" rx="5.4" ry="3.6"/></g><g id="n316"><ellipse cx="298" cy="77" rx="5.4" ry="3.6"/></g><g id="n317"><ellipse cx="312" cy="80" rx="5.4" ry="3.6"/></g>
<g id="n318"><ellipse cx="325" cy="79" rx="5.4" ry="3.6"/></g><g id="n319"><ellipse cx="301" cy="90" rx="5.4" ry="3.6"/></g><g id="n320"><ellipse cx="313" cy="91" rx="5.4" ry="3.6"/></g><g id="n321"><ellipse cx="294" cy="107" rx="5.4" ry="3.6"/></g><g id="n322"><ellipse cx="307" cy="117" rx="5.4" ry="3.6"/></g><g id="n323"><ellipse cx="318" cy="106" rx="5.4" ry="3.6"/></g><g id="n324"><ellipse cx="321" cy="117" rx="5.4" ry="3.6"/></g><g id="n325"><ellipse cx="302" cy="128" rx="5.4" ry="3.6"/></g><g id="n326"><ellipse cx="314" cy="128" rx="5.4" ry="3.6"/></g><g id="n327"><ellipse cx="91" cy="117" rx="5.4" ry="3.6"/></g>
<g id="n328"><ellipse cx="85" cy="128" rx="5.4" ry="3.6"/></g><g id="n329"><ellipse cx="79" cy="142" rx="5.4" ry="3.6"/></g><g id="n330"><ellipse cx="110" cy="129" rx="5.4" ry="3.6"/></g><g id="n331"><ellipse cx="113" cy="150" rx="5.4" ry="3.6"/></g><g id="n332"><ellipse cx="97" cy="147" rx="5.4" ry="3.6"/></g><g id="n333"><ellipse cx="98" cy="160" rx="5.4" ry="3.6"/></g><g id="n334"><ellipse cx="98" cy="175" rx="5.4" ry="3.6"/></g><g id="n335"><ellipse cx="96" cy="189" rx="5.4" ry="3.6"/></g><g id="n336"><ellipse cx="82" cy="164" rx="5.4" ry="3.6"/></g><g id="n337"><ellipse cx="73" cy="175" rx="5.4" ry="3.6"/></g>
<g id="n338"><ellipse cx="68" cy="189" rx="5.4" ry="3.6"/></g><g id="n339"><ellipse cx="87" cy="207" rx="5.4" ry="3.6"/></g><g id="n340"><ellipse cx="95" cy="219" rx="5.4" ry="3.6"/></g><g id="n341"><ellipse cx="100" cy="232" rx="5.4" ry="3.6"/></g><g id="n342"><ellipse cx="77" cy="222" rx="5.4" ry="3.6"/></g><g id="n343"><ellipse cx="85" cy="233" rx="5.4" ry="3.6"/></g><g id="n344"><ellipse cx="89" cy="245" rx="5.4" ry="3.6"/></g><g id="n345"><ellipse cx="60" cy="244" rx="5.4" ry="3.6"/></g><g id="n346"><ellipse cx="73" cy="244" rx="5.4" ry="3.6"/></g><g id="n347"><ellipse cx="67" cy="256" rx="5.4" ry="3.6"/></g>
<g id="n348"><ellipse cx="150" cy="147" rx="5.4" ry="3.6"/></g><g id="n349"><ellipse cx="166" cy="148" rx="5.4" ry="3.6"/></g><g id="n350"><ellipse cx="155" cy="159" rx="5.4" ry="3.6"/></g><g id="n351"><ellipse cx="139" cy="162" rx="5.4" ry="3.6"/></g><g id="n352"><ellipse cx="168" cy="165" rx="5.4" ry="3.6"/></g><g id="n353"><ellipse cx="156" cy="173" rx="5.4" ry="3.6"/></g><g id="n354"><ellipse cx="125" cy="165" rx="5.4" ry="3.6"/></g><g id="n355"><ellipse cx="126" cy="179" rx="5.4" ry="3.6"/></g><g id="n356"><ellipse cx="117" cy="190" rx="5.4" ry="3.6"/></g><g id="n357"><ellipse cx="129" cy="192" rx="5.4" ry="3.6"/></g>
<g id="n358"><ellipse cx="119" cy="204" rx="5.4" ry="3.6"/></g><g id="n359"><ellipse cx="133" cy="205" rx="5.4" ry="3.6"/></g><g id="n360"><ellipse cx="143" cy="198" rx="5.4" ry="3.6"/></g><g id="n361"><ellipse cx="113" cy="217" rx="5.4" ry="3.6"/></g><g id="n362"><ellipse cx="175" cy="181" rx="5.4" ry="3.6"/></g><g id="n363"><ellipse cx="187" cy="175" rx="5.4" ry="3.6"/></g><g id="n364"><ellipse cx="199" cy="177" rx="5.4" ry="3.6"/></g><g id="n365"><ellipse cx="189" cy="188" rx="5.4" ry="3.6"/></g><g id="n366"><ellipse cx="203" cy="190" rx="5.4" ry="3.6"/></g><g id="n367"><ellipse cx="216" cy="190" rx="5.4" ry="3.6"/></g>
<g id="n368"><ellipse cx="183" cy="201" rx="5.4" ry="3.6"/></g><g id="n369"><ellipse cx="196" cy="201" rx="5.4" ry="3.6"/></g><g id="n370"><ellipse cx="160" cy="194" rx="5.4" ry="3.6"/></g><g id="n371"><ellipse cx="172" cy="196" rx="5.4" ry="3.6"/></g><g id="n372"><ellipse cx="166" cy="207" rx="5.4" ry="3.6"/></g><g id="n373"><ellipse cx="152" cy="214" rx="5.4" ry="3.6"/></g><g id="n374"><ellipse cx="174" cy="217" rx="5.4" ry="3.6"/></g><g id="n375"><ellipse cx="128" cy="217" rx="5.4" ry="3.6"/></g><g id="n376"><ellipse cx="140" cy="224" rx="5.4" ry="3.6"/></g><g id="n377"><ellipse cx="151" cy="232" rx="5.4" ry="3.6"/></g>
<g id="n378"><ellipse cx="163" cy="242" rx="5.4" ry="3.6"/></g><g id="n379"><ellipse cx="173" cy="254" rx="5.4" ry="3.6"/></g><g id="n380"><ellipse cx="124" cy="232" rx="5.4" ry="3.6"/></g><g id="n381"><ellipse cx="127" cy="244" rx="5.4" ry="3.6"/></g><g id="n382"><ellipse cx="139" cy="238" rx="5.4" ry="3.6"/></g><g id="n383"><ellipse cx="114" cy="246" rx="5.4" ry="3.6"/></g><g id="n384"><ellipse cx="139" cy="251" rx="5.4" ry="3.6"/></g><g id="n385"><ellipse cx="126" cy="258" rx="5.4" ry="3.6"/></g><g id="n386"><ellipse cx="113" cy="260" rx="5.4" ry="3.6"/></g><g id="n387"><ellipse cx="138" cy="265" rx="5.4" ry="3.6"/></g>
<g id="n388"><ellipse cx="180" cy="237" rx="5.4" ry="3.6"/></g><g id="n389"><ellipse cx="200" cy="234" rx="5.4" ry="3.6"/></g><g id="n390"><ellipse cx="193" cy="245" rx="5.4" ry="3.6"/></g><g id="n391"><ellipse cx="207" cy="248" rx="5.4" ry="3.6"/></g><g id="n392"><ellipse cx="197" cy="256" rx="5.4" ry="3.6"/></g><g id="n393"><ellipse cx="184" cy="255" rx="5.4" ry="3.6"/></g><g id="n394"><ellipse cx="221" cy="234" rx="5.4" ry="3.6"/></g><g id="n395"><ellipse cx="232" cy="241" rx="5.4" ry="3.6"/></g><g id="n396"><ellipse cx="271" cy="177" rx="5.4" ry="3.6"/></g><g id="n397"><ellipse cx="261" cy="185" rx="5.4" ry="3.6"/></g>
<g id="n398"><ellipse cx="251" cy="195" rx="5.4" ry="3.6"/></g><g id="n399"><ellipse cx="243" cy="207" rx="5.4" ry="3.6"/></g><g id="n400"><ellipse cx="246" cy="222" rx="5.4" ry="3.6"/></g><g id="n401"><ellipse cx="273" cy="214" rx="5.4" ry="3.6"/></g><g id="n402"><ellipse cx="263" cy="225" rx="5.4" ry="3.6"/></g><g id="n403"><ellipse cx="253" cy="235" rx="5.4" ry="3.6"/></g><g id="n404"><ellipse cx="262" cy="246" rx="5.4" ry="3.6"/></g><g id="n405"><ellipse cx="286" cy="194" rx="5.4" ry="3.6"/></g><g id="n406"><ellipse cx="296" cy="204" rx="5.4" ry="3.6"/></g><g id="n407"><ellipse cx="309" cy="202" rx="5.4" ry="3.6"/></g>
<g id="n408"><ellipse cx="289" cy="217" rx="5.4" ry="3.6"/></g><g id="n409"><ellipse cx="333" cy="209" rx="5.4" ry="3.6"/></g><g id="n410"><ellipse cx="324" cy="220" rx="5.4" ry="3.6"/></g><g id="n411"><ellipse cx="319" cy="232" rx="5.4" ry="3.6"/></g><g id="n412"><ellipse cx="286" cy="234" rx="5.4" ry="3.6"/></g><g id="n413"><ellipse cx="303" cy="232" rx="5.4" ry="3.6"/></g><g id="n414"><ellipse cx="294" cy="245" rx="5.4" ry="3.6"/></g><g id="n415"><ellipse cx="280" cy="245" rx="5.4" ry="3.6"/></g><g id="n416"><ellipse cx="308" cy="245" rx="5.4" ry="3.6"/></g><g id="n417"><ellipse cx="294" cy="260" rx="5.4" ry="3.6"/></g>
<g id="n418"><ellipse cx="269" cy="159" rx="5.4" ry="3.6"/></g><g id="n419"><ellipse cx="283" cy="162" rx="5.4" ry="3.6"/></g><g id="n420"><ellipse cx="300" cy="166" rx="5.4" ry="3.6"/></g><g id="n421"><ellipse cx="296" cy="152" rx="5.4" ry="3.6"/></g><g id="n422"><ellipse cx="309" cy="152" rx="5.4" ry="3.6"/></g><g id="n423"><ellipse cx="315" cy="164" rx="5.4" ry="3.6"/></g><g id="n424"><ellipse cx="313" cy="176" rx="5.4" ry="3.6"/></g><g id="n425"><ellipse cx="302" cy="180" rx="5.4" ry="3.6"/></g><g id="n426"><ellipse cx="289" cy="177" rx="5.4" ry="3.6"/></g><g id="n427"><ellipse cx="326" cy="137" rx="5.4" ry="3.6"/></g>
<g id="n428"><ellipse cx="324" cy="150" rx="5.4" ry="3.6"/></g><g id="n429"><ellipse cx="327" cy="251" rx="5.4" ry="3.6"/></g><g id="n430"><ellipse cx="321" cy="264" rx="5.4" ry="3.6"/></g><g id="n431"><ellipse cx="95" cy="261" rx="5.4" ry="3.6"/></g><g id="n432"><ellipse cx="97" cy="274" rx="5.4" ry="3.6"/></g><g id="n433"><ellipse cx="109" cy="280" rx="5.4" ry="3.6"/></g><g id="n434"><ellipse cx="91" cy="286" rx="5.4" ry="3.6"/></g><g id="n435"><ellipse cx="103" cy="288" rx="5.4" ry="3.6"/></g><g id="n436"><ellipse cx="80" cy="277" rx="5.4" ry="3.6"/></g><g id="n437"><ellipse cx="72" cy="286" rx="5.4" ry="3.6"/></g>
<g id="n438"><ellipse cx="68" cy="297" rx="5.4" ry="3.6"/></g><g id="n439"><ellipse cx="83" cy="299" rx="5.4" ry="3.6"/></g><g id="n440"><ellipse cx="96" cy="299" rx="5.4" ry="3.6"/></g><g id="n441"><ellipse cx="89" cy="310" rx="5.4" ry="3.6"/></g><g id="n442"><ellipse cx="151" cy="264" rx="5.4" ry="3.6"/></g><g id="n443"><ellipse cx="162" cy="276" rx="5.4" ry="3.6"/></g><g id="n444"><ellipse cx="176" cy="273" rx="5.4" ry="3.6"/></g><g id="n445"><ellipse cx="156" cy="289" rx="5.4" ry="3.6"/></g><g id="n446"><ellipse cx="221" cy="266" rx="5.4" ry="3.6"/></g><g id="n447"><ellipse cx="236" cy="273" rx="5.4" ry="3.6"/></g>
<g id="n448"><ellipse cx="230" cy="287" rx="5.4" ry="3.6"/></g><g id="n449"><ellipse cx="248" cy="261" rx="5.4" ry="3.6"/></g><g id="n450"><ellipse cx="251" cy="281" rx="5.4" ry="3.6"/></g><g id="n451"><ellipse cx="190" cy="271" rx="5.4" ry="3.6"/></g><g id="n452"><ellipse cx="203" cy="281" rx="5.4" ry="3.6"/></g><g id="n453"><ellipse cx="206" cy="294" rx="5.4" ry="3.6"/></g><g id="n454"><ellipse cx="123" cy="281" rx="5.4" ry="3.6"/></g><g id="n455"><ellipse cx="131" cy="293" rx="5.4" ry="3.6"/></g><g id="n456"><ellipse cx="143" cy="297" rx="5.4" ry="3.6"/></g><g id="n457"><ellipse cx="134" cy="306" rx="5.4" ry="3.6"/></g>
<g id="n458"><ellipse cx="178" cy="287" rx="5.4" ry="3.6"/></g><g id="n459"><ellipse cx="171" cy="297" rx="5.4" ry="3.6"/></g><g id="n460"><ellipse cx="166" cy="311" rx="5.4" ry="3.6"/></g><g id="n461"><ellipse cx="194" cy="306" rx="5.4" ry="3.6"/></g><g id="n462"><ellipse cx="207" cy="306" rx="5.4" ry="3.6"/></g><g id="n463"><ellipse cx="200" cy="318" rx="5.4" ry="3.6"/></g><g id="n464"><ellipse cx="251" cy="295" rx="5.4" ry="3.6"/></g><g id="n465"><ellipse cx="245" cy="305" rx="5.4" ry="3.6"/></g><g id="n466"><ellipse cx="258" cy="305" rx="5.4" ry="3.6"/></g><g id="n467"><ellipse cx="236" cy="311" rx="5.4" ry="3.6"/></g>
<g id="n468"><ellipse cx="250" cy="314" rx="5.4" ry="3.6"/></g><g id="n469"><ellipse cx="284" cy="273" rx="5.4" ry="3.6"/></g><g id="n470"><ellipse cx="305" cy="273" rx="5.4" ry="3.6"/></g><g id="n471"><ellipse cx="268" cy="283" rx="5.4" ry="3.6"/></g><g id="n472"><ellipse cx="279" cy="289" rx="5.4" ry="3.6"/></g><g id="n473"><ellipse cx="294" cy="287" rx="5.4" ry="3.6"/></g><g id="n474"><ellipse cx="268" cy="297" rx="5.4" ry="3.6"/></g><g id="n475"><ellipse cx="321" cy="279" rx="5.4" ry="3.6"/></g><g id="n476"><ellipse cx="313" cy="289" rx="5.4" ry="3.6"/></g><g id="n477"><ellipse cx="308" cy="302" rx="5.4" ry="3.6"/></g>
<g id="n478"><ellipse cx="324" cy="294" rx="5.4" ry="3.6"/></g><g id="n479"><ellipse cx="323" cy="304" rx="5.4" ry="3.6"/></g><g id="n480"><ellipse cx="318" cy="316" rx="5.4" ry="3.6"/></g><g id="n481"><ellipse cx="269" cy="310" rx="5.4" ry="3.6"/></g><g id="n482"><ellipse cx="283" cy="310" rx="5.4" ry="3.6"/></g><g id="n483"><ellipse cx="276" cy="321" rx="5.4" ry="3.6"/></g><g id="n484"><ellipse cx="348" cy="301" rx="5.4" ry="3.6"/></g><g id="n485"><ellipse cx="346" cy="38" rx="5.4" ry="3.6"/></g><g id="n486"><ellipse cx="347" cy="342" rx="5.4" ry="3.6"/></g><g id="n487"><ellipse cx="344" cy="369" rx="5.4" ry="3.6"/></g>
</svg>
